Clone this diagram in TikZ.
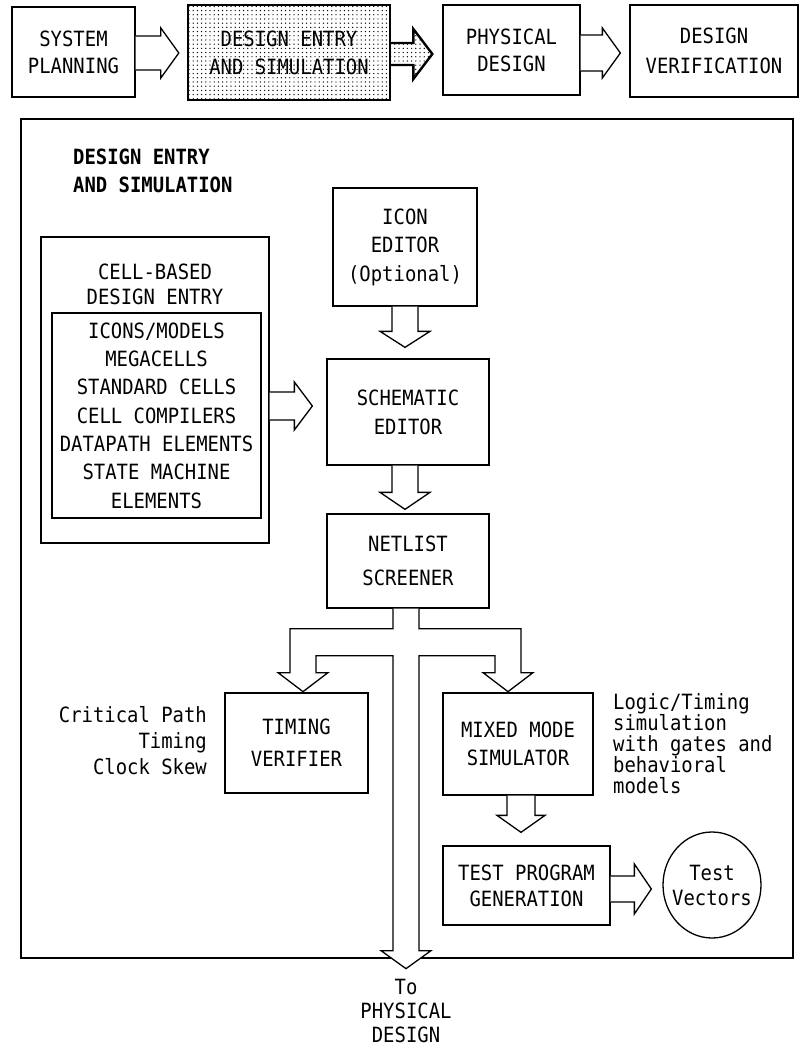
\documentclass[tikz,border=0pt]{standalone}
\usepackage{fontspec}
\newfontfamily\plotfont{DejaVu Sans Mono}[FakeStretch=0.9]
\usetikzlibrary{calc,shapes.geometric,patterns.meta}

% Horizontal block arrow: [style]{from}{to}{axis y}{stem half}{head half}{head length}{gap}
\newcommand{\blockright}[8][]{%
  \draw[blk,#1] ($(#2.east |- 0,#4)+(0,-#5)$)
    -- ($(#3.west |- 0,#4)+(-#8-#7,-#5)$)
    -- ($(#3.west |- 0,#4)+(-#8-#7,-#6)$)
    -- ($(#3.west |- 0,#4)+(-#8,0)$)
    -- ($(#3.west |- 0,#4)+(-#8-#7,#6)$)
    -- ($(#3.west |- 0,#4)+(-#8-#7,#5)$)
    -- ($(#2.east |- 0,#4)+(0,#5)$);}

% Vertical block arrow: [style]{from}{to}{axis x}{stem half}{head half}{head length}{gap}
\newcommand{\blockdown}[8][]{%
  \draw[blk,#1] ($(#4,0 |- #2.south)+(-#5,0)$)
    -- ($(#4,0 |- #3.north)+(-#5,-#8-#7)$)
    -- ($(#4,0 |- #3.north)+(-#6,-#8-#7)$)
    -- ($(#4,0 |- #3.north)+(0,-#8)$)
    -- ($(#4,0 |- #3.north)+(#6,-#8-#7)$)
    -- ($(#4,0 |- #3.north)+(#5,-#8-#7)$)
    -- ($(#4,0 |- #2.south)+(#5,0)$);}

\begin{document}
\begin{tikzpicture}[x=1pt,y=-1pt,
  lbl/.style={font=\plotfont\fontsize{21}{#1}\selectfont, inner sep=0pt},
  lbl/.default=28,
  box/.style={draw, line width=1.3pt, inner sep=0pt, align=center, lbl=#1},
  box/.default=28,
  blk/.style={draw, line width=1.3pt, fill=white, line join=miter},
  dotfill/.style={pattern={Dots[distance=4.2pt,radius=0.7pt]}, pattern color=black}
]
\useasboundingbox (0,0) rectangle (806,1048);

% ---- flow overview row ----
\node[box=27, minimum width=123, minimum height=90] (sp) at (73.5,52) {SYSTEM\\PLANNING};
\node[box=28, line width=2.4pt, dotfill, minimum width=202, minimum height=95] (de) at (289,52.5) {DESIGN ENTRY\\AND SIMULATION};
\node[box=27, minimum width=137, minimum height=90] (phys) at (511.5,50) {PHYSICAL\\DESIGN};
\node[box=30, minimum width=168, minimum height=92] (dv) at (714,51) {DESIGN\\VERIFICATION};

\blockright{sp}{de}{53}{17}{25}{18}{8}
\blockright[line width=2.4pt, dotfill]{de}{phys}{54}{11}{25}{19}{10}
\blockright{phys}{dv}{53}{18}{25}{18}{9}

% ---- detail frame ----
\node[draw, line width=2pt, minimum width=772, minimum height=839, inner sep=0pt] (frame) at (407,538.5) {};
\node[lbl, anchor=west, align=left, font=\plotfont\bfseries\fontsize{21}{28}\selectfont] (title) at (73,171) {DESIGN ENTRY\\AND SIMULATION};

% cell library
\node[draw, line width=1.3pt, minimum width=228, minimum height=306, inner sep=0pt] (cell) at (155,390) {};
\node[lbl=25, align=center] (celltitle) at (155,284) {CELL-BASED\\DESIGN ENTRY};
\node[box=28.3, minimum width=209, minimum height=205] (lib) at (156.5,415.5) {ICONS/MODELS\\MEGACELLS\\STANDARD CELLS\\CELL COMPILERS\\DATAPATH ELEMENTS\\STATE MACHINE\\ELEMENTS};

% main column
\node[box=28.5, minimum width=144, minimum height=118] (icon) at (405,247) {ICON\\EDITOR\\(Optional)};
\node[box=29, minimum width=162, minimum height=106] (schem) at (408,412) {SCHEMATIC\\EDITOR};
\node[box=34, minimum width=162, minimum height=94] (net) at (408,561) {NETLIST\\SCREENER};

\node[box=32, minimum width=143, minimum height=100] (timing) at (296.5,743) {TIMING\\VERIFIER};
\node[box=28, minimum width=150, minimum height=102] (mixed) at (518,744) {MIXED MODE\\SIMULATOR};
\node[box=26, minimum width=167, minimum height=79] (test) at (526.5,885.5) {TEST PROGRAM\\GENERATION};
\node[draw, line width=1.3pt, ellipse, minimum width=98, minimum height=106, inner sep=0pt] (vec) at (712,885) {};
\node[lbl=25, align=center] (vectxt) at (vec.center) {Test\\Vectors};

% side notes
\node[lbl=26, anchor=east, align=right] (crit) at (207,741) {Critical Path\\Timing\\Clock Skew};
\node[lbl=21, anchor=west, align=left] (logic) at (613,744) {Logic/Timing\\simulation\\with gates and\\behavioral\\models};
\node[lbl=24, align=center] (tophys) at (406,1011) {To\\PHYSICAL\\DESIGN};

% block arrows
\blockright{cell}{schem}{406}{14}{24}{18}{14}
\blockdown{icon}{schem}{405}{13}{25}{16}{11}
\blockdown{schem}{net}{405}{13}{25}{17}{4}
\blockdown{mixed}{test}{521}{14}{24}{17}{13}
\blockright{test}{vec}{889}{13}{25}{17}{11}

% netlist fan-out: left to timing, right to simulator, centre out of the frame
\draw[blk] ($(net.south)+(-15,0)$) -- ++(0,20) -- ++(-103,0) -- ++(0,44) -- ++(-12,0)
  -- ++(25,19) -- ++(25,-19) -- ++(-12,0) -- ++(0,-17) -- ++(77,0) -- ++(0,295)
  -- ++(-12,0) -- ++(25,18) -- ++(25,-18) -- ++(-12,0) -- ++(0,-295) -- ++(76,0)
  -- ++(0,17) -- ++(-12,0) -- ++(25,19) -- ++(25,-19) -- ++(-12,0) -- ++(0,-44)
  -- ++(-102,0) -- ++(0,-20);
\end{tikzpicture}
\end{document}
